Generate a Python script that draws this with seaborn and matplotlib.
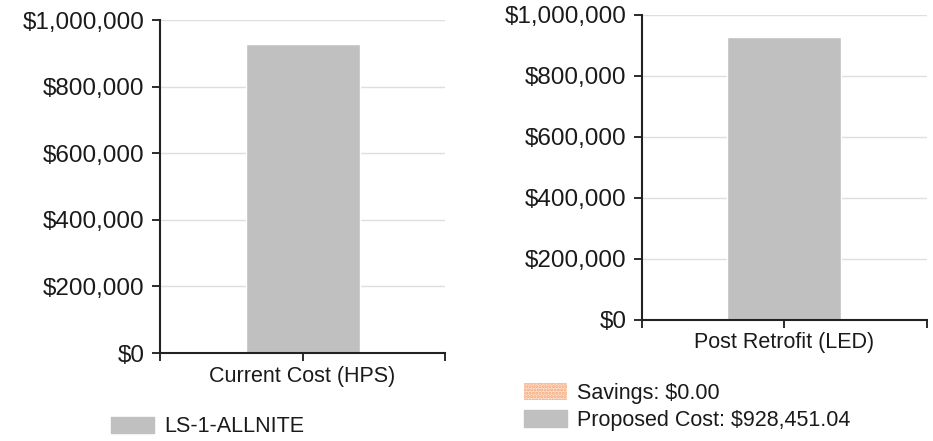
import matplotlib
matplotlib.use('Agg')
import matplotlib.pyplot as plt
import matplotlib.patches as mpatches
from matplotlib.ticker import FuncFormatter
import seaborn as sns
import pandas as pd

# chart data
current_labels = ['Current Cost (HPS)']
current_values = [928451.04]
retrofit_labels = ['Post Retrofit (LED)']
proposed_values = [928451.04]
savings_values = [0.0]
rate_name = 'LS-1-ALLNITE'

bar_grey = '#c0c0c0'
savings_col = '#fde0cc'
text_col = '#1a1a1a'

sns.set_theme(style='white')
plt.rcParams['font.family'] = ['Liberation Sans', 'DejaVu Sans']
plt.rcParams['text.color'] = text_col
plt.rcParams['xtick.color'] = text_col
plt.rcParams['ytick.color'] = text_col
plt.rcParams['hatch.linewidth'] = 1.5

fig = plt.figure(figsize=(9.33, 4.41), dpi=100)
ax1 = fig.add_axes([0.1715, 0.1995, 0.3055, 0.7551])
ax2 = fig.add_axes([0.688, 0.2744, 0.3056, 0.6916])

money = FuncFormatter(lambda v, p: '${:,.0f}'.format(v))

def style_axis(ax, label):
    ax.set_xlim(-0.5, 0.5)
    ax.set_ylim(0, 1000000)
    ax.set_yticks(range(0, 1000001, 200000))
    ax.yaxis.set_major_formatter(money)
    ax.set_xticks([-0.5, 0, 0.5])
    ax.set_xticklabels(['', label, ''])
    ax.grid(axis='y', color='#dedede', linewidth=1)
    ax.set_axisbelow(True)
    for s in ['top', 'right']:
        ax.spines[s].set_visible(False)
    for s in ['left', 'bottom']:
        ax.spines[s].set_color('#222222')
        ax.spines[s].set_linewidth(1.5)
    ax.tick_params(axis='y', labelsize=17.5, length=6, width=1.3, pad=5,
                   direction='out', left=True)
    ax.tick_params(axis='x', labelsize=15.5, length=6, width=1.3, pad=3,
                   direction='out', bottom=True)
    ax.set_xlabel('')
    ax.set_ylabel('')

df1 = pd.DataFrame({'cat': current_labels, 'val': current_values})
sns.barplot(data=df1, x='cat', y='val', color=bar_grey, width=0.4,
            saturation=1, ax=ax1)
style_axis(ax1, current_labels[0])

df2 = pd.DataFrame({'cat': retrofit_labels, 'val': proposed_values})
sns.barplot(data=df2, x='cat', y='val', color=bar_grey, width=0.4,
            saturation=1, ax=ax2)
# savings stacked on top (zero height here)
ax2.bar([0], savings_values, bottom=proposed_values, width=0.4,
        facecolor=savings_col, edgecolor='#f5a77a', hatch='.....', linewidth=0)
style_axis(ax2, retrofit_labels[0])

h1 = [mpatches.Patch(color=bar_grey, label=rate_name)]
fig.legend(handles=h1, loc='center left', bbox_to_anchor=(0.119, 0.032),
           frameon=False, fontsize=15.5, handlelength=2.0, handleheight=0.75,
           handletextpad=0.45, borderpad=0, borderaxespad=0)

h2 = [mpatches.Patch(facecolor=savings_col, edgecolor='#f5a77a', linewidth=0,
                     hatch='.....',
                     label='Savings: ${:,.2f}'.format(savings_values[0])),
      mpatches.Patch(color=bar_grey,
                     label='Proposed Cost: ${:,.2f}'.format(proposed_values[0]))]
fig.legend(handles=h2, loc='center left', bbox_to_anchor=(0.562, 0.077),
           frameon=False, fontsize=15.5, handlelength=2.0, handleheight=0.85,
           handletextpad=0.45, labelspacing=0.25, borderpad=0, borderaxespad=0)

fig.savefig('out.png', dpi=100)
